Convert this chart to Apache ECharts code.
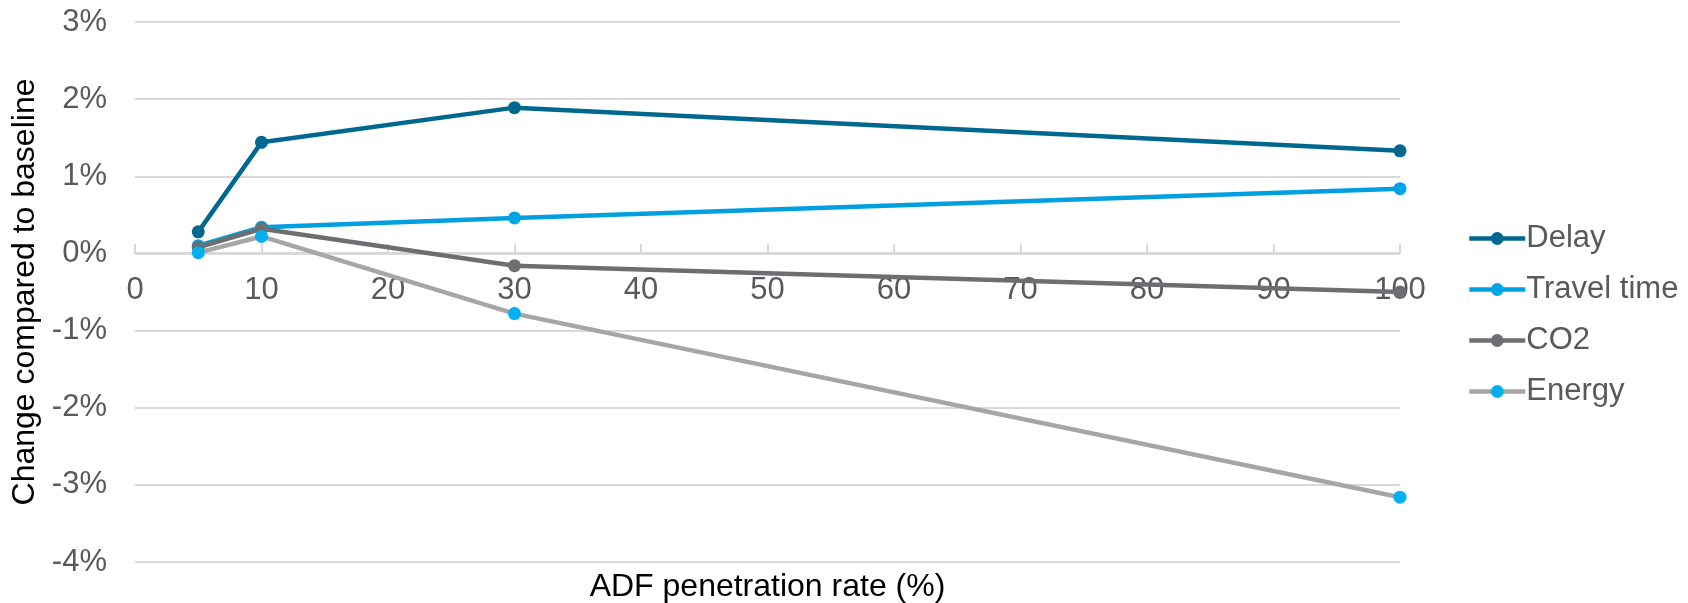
<!DOCTYPE html>
<html>
<head>
<meta charset="utf-8">
<script src="https://cdn.jsdelivr.net/npm/echarts@6/dist/echarts.min.js"></script>
<style>
    html, body { margin: 0; padding: 0; background: #fff; }
    #chart { width: 1688px; height: 603px; }
</style>
</head>
<body>
<div id="chart"></div>
<script>
// ADF penetration rate (%) and change compared to baseline (%)
const penetration = [5, 10, 30, 100];
const delay = [0.28, 1.44, 1.89, 1.33];
const travelTime = [0.10, 0.34, 0.46, 0.84];
const co2 = [0.08, 0.32, -0.16, -0.50];
const energy = [0.01, 0.22, -0.78, -3.16];
const yTicks = [-4, -3, -2, -1, 0, 1, 2, 3];

const font = 'Liberation Sans, Arial, sans-serif';

function pairs(values) {
    return penetration.map((x, i) => [x, values[i]]);
}

function lineSeries(name, values, lineColor, markerColor) {
    return {
        name: name,
        type: 'line',
        data: pairs(values),
        symbol: 'circle',
        symbolSize: 13,
        lineStyle: { color: lineColor, width: 4.5 },
        itemStyle: { color: markerColor }
    };
}

const chart = echarts.init(document.getElementById('chart'));
chart.setOption({
    animation: false,
    grid: { left: 135, right: 288, top: 22, bottom: 41, outerBoundsMode: 'none', containLabel: false },
    legend: {
        orient: 'vertical',
        left: 1462,
        top: 218,
        itemWidth: 56,
        itemHeight: 16,
        itemGap: 20,
        lineStyle: { width: 4.5 },
        textStyle: { color: '#595959', fontSize: 31, fontFamily: font, padding: [0, 0, 0, -4] },
        data: ['Delay', 'Travel time', 'CO2', 'Energy']
    },
    xAxis: {
        type: 'value',
        position: 'bottom',
        offset: -309, // axis crosses the y axis at 0%
        min: 0,
        max: 100,
        interval: 10,
        name: 'ADF penetration rate (%)',
        nameLocation: 'middle',
        nameGap: 318,
        nameTextStyle: { color: '#000', fontSize: 32, fontFamily: font },
        axisLine: { onZero: false, lineStyle: { color: '#d9d9d9', width: 2 } },
        axisTick: { show: true, inside: true, length: 9, lineStyle: { color: '#d9d9d9', width: 2 } },
        axisLabel: { color: '#595959', fontSize: 31, fontFamily: font, margin: 22 },
        splitLine: { show: false }
    },
    yAxis: {
        type: 'value',
        min: yTicks[0],
        max: yTicks[yTicks.length - 1],
        interval: 1,
        name: 'Change compared to baseline',
        nameLocation: 'middle',
        nameGap: 94,
        nameTextStyle: { color: '#000', fontSize: 32, fontFamily: font },
        axisLine: { show: false, onZero: false },
        axisTick: { show: false },
        axisLabel: { color: '#595959', fontSize: 31, fontFamily: font, margin: 28, formatter: '{value}%' },
        splitLine: { lineStyle: { color: '#d9d9d9', width: 2 } }
    },
    series: [
        lineSeries('Delay', delay, '#00688f', '#00688f'),
        lineSeries('Travel time', travelTime, '#009fdf', '#00a3e3'),
        lineSeries('CO2', co2, '#6d6e72', '#6d6e72'),
        lineSeries('Energy', energy, '#a6a6a6', '#00b0f0')
    ]
});

window.addEventListener('resize', function() {
    chart.resize();
});
</script>
</body>
</html>
